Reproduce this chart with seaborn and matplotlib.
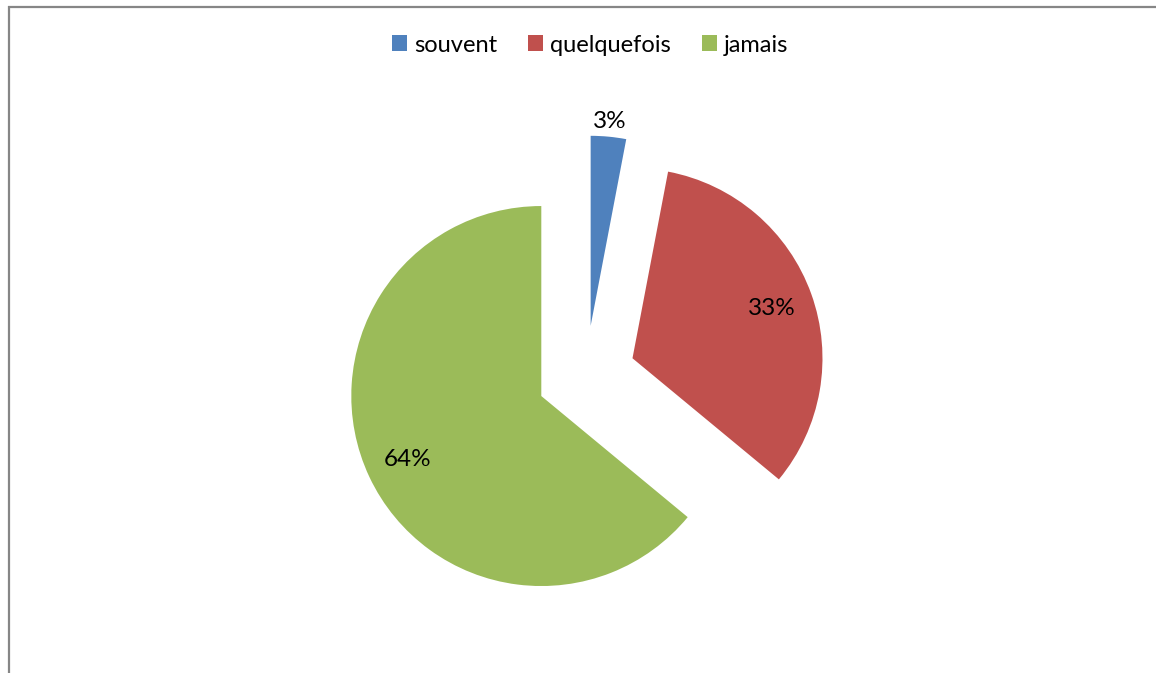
import matplotlib
matplotlib.use("Agg")
import matplotlib.pyplot as plt
from matplotlib.patches import Patch
from matplotlib.lines import Line2D
import numpy as np
import seaborn as sns

categories = ["souvent", "quelquefois", "jamais"]
values = [3, 33, 64]
colors = ["#4F81BD", "#C0504D", "#9BBB59"]

sns.set_theme(style="white")
plt.rcParams["font.family"] = ["Lato", "DejaVu Sans"]

W, H = 1156, 673
fig = plt.figure(figsize=(W / 100, H / 100), dpi=100)
ax = fig.add_axes([0, 0, 1, 1])

radius = 190
# every slice pulled out from the centre by about a quarter of the radius
explode = [0.26 * radius] * len(values)
wedges, _ = ax.pie(
    values,
    explode=explode,
    startangle=90,
    counterclock=False,
    colors=colors,
    center=(586, H - 375),
    radius=radius,
    wedgeprops=dict(linewidth=0),
)
ax.set_xlim(0, W)
ax.set_ylim(0, H)
ax.set_aspect("equal")
ax.axis("off")

# percentage labels: inside the large slices, just outside the small one
for w, v in zip(wedges, values):
    mid = np.deg2rad((w.theta1 + w.theta2) / 2)
    dist = 1.08 if v < 10 else 0.78
    cx, cy = w.center
    ax.text(cx + dist * radius * np.cos(mid), cy + dist * radius * np.sin(mid),
            f"{v}%", ha="center", va="center", fontsize=17.5, color="#000000")

handles = [Patch(facecolor=c, edgecolor="none", label=l) for c, l in zip(colors, categories)]
fig.legend(handles=handles, loc="center", bbox_to_anchor=(590 / W, 1 - 45 / H),
           ncol=3, frameon=False, fontsize=17, handlelength=0.65, handleheight=0.65,
           handletextpad=0.3, columnspacing=1.3, labelcolor="#000000")

# chart-area border (top and left edges)
fig.add_artist(Line2D([8 / W, 1.01], [1 - 7 / H, 1 - 7 / H], color="#868686",
                      linewidth=1.6, solid_capstyle="butt"))
fig.add_artist(Line2D([9 / W, 9 / W], [-0.01, 1 - 6 / H], color="#868686",
                      linewidth=1.6, solid_capstyle="butt"))

fig.savefig("out.png", dpi=100)
